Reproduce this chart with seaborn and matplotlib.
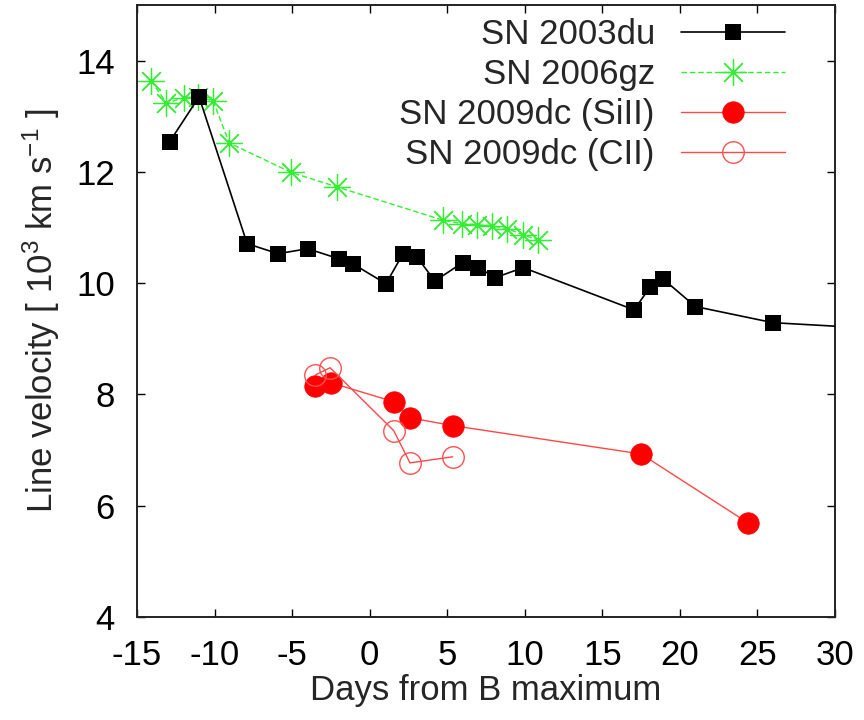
import numpy as np
import pandas as pd
import matplotlib
matplotlib.use("Agg")
import matplotlib.pyplot as plt
import seaborn as sns

# ---- data ----
du_days = [-12.9, -11.0, -7.9, -5.9, -4.0, -2.0, -1.1, 1.05, 2.15, 3.05, 4.2,
           6.0, 7.0, 8.1, 9.9, 17.05, 18.1, 18.9, 21.0, 26.0, 33.0]
du_vel = [12.54, 13.35, 10.71, 10.53, 10.62, 10.44, 10.35, 9.99, 10.53, 10.47, 10.04,
          10.37, 10.28, 10.10, 10.28, 9.52, 9.94, 10.08, 9.58, 9.29, 9.18]

gz_days = [-14.1, -13.1, -12.0, -11.05, -10.1, -9.05, -5.05, -2.1,
           4.75, 5.95, 6.9, 7.9, 8.85, 9.9, 10.85]
gz_vel = [13.64, 13.24, 13.33, 13.35, 13.28, 12.52, 11.99, 11.73,
          11.13, 11.07, 11.05, 11.03, 10.98, 10.87, 10.78]

si_days = [-3.5, -2.5, 1.55, 2.6, 5.35, 17.5, 24.4]
si_vel = [8.15, 8.21, 7.87, 7.58, 7.44, 6.93, 5.69]

c_days = [-3.5, -2.55, 1.55, 2.6, 5.35]
c_vel = [8.35, 8.48, 7.35, 6.77, 6.88]

labels = ["SN 2003du", "SN 2006gz", "SN 2009dc (SiII)", "SN 2009dc (CII)"]
xticks = [-15, -10, -5, 0, 5, 10, 15, 20, 25, 30]
yticks = [4, 6, 8, 10, 12, 14]

# ---- style ----
sns.set_style("ticks")
plt.rcParams['font.family'] = ['Liberation Sans', 'DejaVu Sans']
plt.rcParams['mathtext.fontset'] = 'custom'
plt.rcParams['mathtext.rm'] = 'Liberation Sans'
plt.rcParams['mathtext.it'] = 'Liberation Sans'
FS = 25

fig = plt.figure(figsize=(8.64, 7.2), dpi=100)
ax = fig.add_axes([137 / 864, 103 / 720, 698 / 864, 612 / 720])

df_du = pd.DataFrame({"x": du_days, "y": du_vel})
df_gz = pd.DataFrame({"x": gz_days, "y": gz_vel})
df_si = pd.DataFrame({"x": si_days, "y": si_vel})
df_c = pd.DataFrame({"x": c_days, "y": c_vel})

sns.lineplot(data=df_du, x="x", y="y", ax=ax, color="black", lw=1.2,
             marker="s", markersize=11.5, markeredgewidth=0, label=labels[0],
             zorder=4)
sns.lineplot(data=df_gz, x="x", y="y", ax=ax, color="#33ee33", lw=1.0,
             linestyle=(0, (4, 2)), marker=(8, 2, 0), markersize=19,
             markeredgewidth=0.9, markeredgecolor="#33ee33", label=labels[1],
             zorder=3)
sns.lineplot(data=df_si, x="x", y="y", ax=ax, color="#ff4848", lw=1.0,
             marker="o", markersize=15.5, markerfacecolor="red",
             markeredgecolor="red", markeredgewidth=0.5, label=labels[2],
             zorder=3)
sns.lineplot(data=df_c, x="x", y="y", ax=ax, color="#ff4848", lw=1.0,
             marker="o", markersize=15.5, markerfacecolor="none",
             markeredgecolor="#ff5050", markeredgewidth=1.0, label=labels[3],
             zorder=3)

ax.set_xlim(-15, 30)
ax.set_ylim(4, 15)
ax.set_xticks(xticks)
ax.set_xticklabels([str(v) for v in xticks])
ax.set_yticks(yticks)
ax.set_yticklabels([str(v) for v in yticks])

for s in ax.spines.values():
    s.set_visible(True)
    s.set_linewidth(1.4)
    s.set_color("#222222")

ax.tick_params(axis="both", which="major", direction="in", length=6,
               width=1.0, top=True, right=True, labelsize=FS, colors="black")
ax.tick_params(axis="x", pad=16)
ax.tick_params(axis="y", pad=16)

ax.set_xlabel("Days from B maximum", fontsize=FS, labelpad=1)
ax.set_ylabel(r"Line velocity [ 10$^{3}$ km s$^{-1}$ ]", fontsize=FS, labelpad=10)

leg = ax.legend(loc="upper right", frameon=False, fontsize=FS, markerfirst=False,
                handlelength=3.0, handletextpad=0.75, labelspacing=0.2,
                borderaxespad=0.0, borderpad=0.0, numpoints=1,
                bbox_to_anchor=((785 - 137) / 698, 1 - 13 / 612))

fig.savefig("out.png", dpi=100)
